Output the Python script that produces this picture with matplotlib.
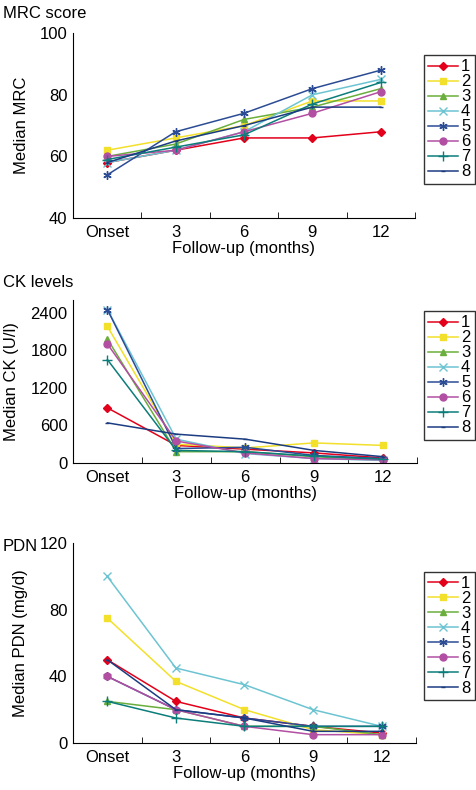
import matplotlib
matplotlib.use("Agg")
import matplotlib.pyplot as plt

plt.rcParams['font.family'] = ['Liberation Sans', 'DejaVu Sans']
plt.rcParams['font.size'] = 12

months = ['Onset', '3', '6', '9', '12']
groups = ['1', '2', '3', '4', '5', '6', '7', '8']

colors = ['#e2001a', '#f2e02a', '#6aae3c', '#6cc4d2', '#2b4c94', '#b24fa2', '#0b7d7a', '#1c3c82']
markers = ['D', 's', '^', 'x', (6, 2, 0), 'o', '+', '_']
msizes = [4, 5, 5, 6, 6, 5, 7, 3]

# median MRC score
mrc = [
    [58, 62, 66, 66, 68],
    [62, 66, 70, 78, 78],
    [60, 64, 72, 76, 82],
    [58, 62, 68, 80, 85],
    [54, 68, 74, 82, 88],
    [60, 62, 68, 74, 81],
    [59, 63, 67, 77, 84],
    [58, 65, 70, 76, 76],
]

# median CK (U/l)
ck = [
    [880, 280, 220, 160, 80],
    [2180, 300, 240, 320, 280],
    [1980, 180, 180, 100, 50],
    [2450, 380, 150, 70, 40],
    [2450, 230, 250, 120, 70],
    [1900, 350, 160, 70, 50],
    [1650, 200, 180, 110, 60],
    [640, 460, 380, 200, 100],
]

# median PDN (mg/d)
pdn = [
    [50, 25, 15, 10, 6],
    [75, 37, 20, 8, 5],
    [25, 20, 10, 10, 5],
    [100, 45, 35, 20, 10],
    [40, 20, 15, 10, 10],
    [40, 20, 10, 5, 5],
    [25, 15, 10, 10, 10],
    [50, 20, 15, 7, 7],
]

fig = plt.figure(figsize=(4.77, 7.9), dpi=100)

panels = [
    (mrc, 'MRC score', 'Median MRC', (40, 100), [40, 60, 80, 100], [0.153, 0.724, 0.717, 0.234], 0.992, 0.93),
    (ck, 'CK levels', 'Median CK (U/l)', (0, 2600), [0, 600, 1200, 1800, 2400], [0.153, 0.414, 0.722, 0.206], 0.652, 0.606),
    (pdn, 'PDN', 'Median PDN (mg/d)', (0, 120), [0, 40, 80, 120], [0.153, 0.0595, 0.719, 0.253], 0.318, 0.276),
]

for data, title, ylab, ylim, yticks, rect, ty, ly in panels:
    ax = fig.add_axes(rect)
    for i, g in enumerate(groups):
        ax.plot(range(len(months)), data[i], color=colors[i], marker=markers[i],
                markersize=msizes[i], lw=1.1, label=g)
    ax.set_xlim(-0.5, 4.5)
    ax.set_ylim(*ylim)
    ax.set_yticks(yticks)
    ax.set_xticks(range(len(months)))
    ax.set_xticklabels(months)
    ax.set_xticks([0.5, 1.5, 2.5, 3.5, 4.5], minor=True)
    ax.tick_params(axis='x', which='major', length=0, pad=5)
    ax.tick_params(axis='x', which='minor', direction='in', length=4)
    ax.tick_params(axis='y', length=0, pad=4)
    ax.spines['top'].set_visible(False)
    ax.spines['right'].set_visible(False)
    ax.set_xlabel('Follow-up (months)', labelpad=1)
    ax.set_ylabel(ylab, labelpad=8)
    fig.text(0.006, ty, title, ha='left', va='top')
    leg = fig.legend(loc='upper right', bbox_to_anchor=(0.995, ly), frameon=True,
                     fancybox=False, edgecolor='black', labelspacing=0.0,
                     handlelength=1.8, handletextpad=0.2, borderpad=0.25,
                     borderaxespad=0, handles=ax.get_lines())
    leg.get_frame().set_linewidth(1.0)

fig.savefig('out.png', dpi=100)
